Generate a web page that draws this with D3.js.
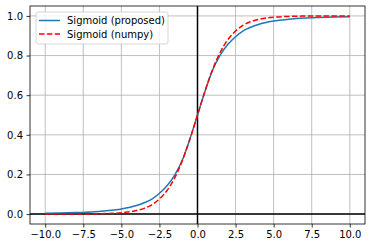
<!DOCTYPE html>
<html>
<head>
<meta charset="utf-8">
<script src="https://cdn.jsdelivr.net/npm/d3@7"></script>
<style>
  body { margin: 0; background: #fff; }
  text { font-family: "DejaVu Sans", sans-serif; }
</style>
</head>
<body>
<script>
let width = 372
let height = 248
let margin = {top: 6, right: 7, bottom: 24, left: 30}

// values
let xs = [-10, -9, -8, -7, -6, -5, -4, -3.5, -3, -2.5, -2, -1.5, -1, -0.5, 0,
          0.5, 1, 1.5, 2, 2.5, 3, 3.5, 4, 5, 6, 7, 8, 9, 10]
let proposed = [0.004, 0.006, 0.008, 0.011, 0.017, 0.026, 0.043, 0.057, 0.075, 0.105, 0.143, 0.197, 0.272, 0.379, 0.5,
                0.621, 0.728, 0.803, 0.857, 0.895, 0.925, 0.943, 0.957, 0.974, 0.983, 0.989, 0.992, 0.994, 0.996]
let numpy = [0.0000, 0.0001, 0.0003, 0.0009, 0.0025, 0.0067, 0.018, 0.029, 0.047, 0.076, 0.119, 0.182, 0.269, 0.378, 0.5,
             0.622, 0.731, 0.818, 0.881, 0.924, 0.953, 0.971, 0.982, 0.9933, 0.9975, 0.9991, 0.9997, 0.9999, 1.0]
let xTicks = [-10, -7.5, -5, -2.5, 0, 2.5, 5, 7.5, 10]
let yTicks = [0, 0.2, 0.4, 0.6, 0.8, 1.0]
let seriesNames = ["Sigmoid (proposed)", "Sigmoid (numpy)"]
let seriesColors = ["#1f77b4", "#ff0000"]

let svg = d3.select("body").append("svg")
    .attr("width", width)
    .attr("height", height)

let x = d3.scaleLinear().domain([-11, 11]).range([margin.left, width - margin.right])
let y = d3.scaleLinear().domain([-0.05, 1.05]).range([height - margin.bottom, margin.top])

let fmt = (d) => d3.format(".1f")(d).replace("-", "\u2212")

// grid
svg.append("g").selectAll("line").data(xTicks).join("line")
    .attr("x1", d => x(d)).attr("x2", d => x(d))
    .attr("y1", margin.top).attr("y2", height - margin.bottom)
    .attr("stroke", "#b0b0b0").attr("stroke-width", 0.8)
svg.append("g").selectAll("line").data(yTicks).join("line")
    .attr("x1", margin.left).attr("x2", width - margin.right)
    .attr("y1", d => y(d)).attr("y2", d => y(d))
    .attr("stroke", "#b0b0b0").attr("stroke-width", 0.8)

// zero lines
svg.append("line")
    .attr("x1", x(0)).attr("x2", x(0))
    .attr("y1", margin.top).attr("y2", height - margin.bottom)
    .attr("stroke", "#000").attr("stroke-width", 1.5)
svg.append("line")
    .attr("x1", margin.left).attr("x2", width - margin.right)
    .attr("y1", y(0)).attr("y2", y(0))
    .attr("stroke", "#000").attr("stroke-width", 1.5)

let line = (vals) => d3.line()
    .x((d, i) => x(xs[i]))
    .y(d => y(d))
    .curve(d3.curveMonotoneX)(vals)

svg.append("path")
    .attr("d", line(proposed))
    .attr("fill", "none").attr("stroke", seriesColors[0]).attr("stroke-width", 1.5)
svg.append("path")
    .attr("d", line(numpy))
    .attr("fill", "none").attr("stroke", seriesColors[1]).attr("stroke-width", 1.5)
    .attr("stroke-dasharray", "5.5,2.4")

// axes
let xAxis = svg.append("g")
    .attr("transform", "translate(0," + (height - margin.bottom) + ")")
    .call(d3.axisBottom(x).tickValues(xTicks).tickFormat(fmt).tickSize(3.5).tickPadding(3.5))
let yAxis = svg.append("g")
    .attr("transform", "translate(" + margin.left + ",0)")
    .call(d3.axisLeft(y).tickValues(yTicks).tickFormat(fmt).tickSize(3.5).tickPadding(3.5))
for (let ax of [xAxis, yAxis]) {
    ax.selectAll("text").attr("font-size", 10).attr("fill", "#000")
        .style("font-family", "DejaVu Sans")
    ax.selectAll("line").attr("stroke", "#000").attr("stroke-width", 0.8)
    ax.select(".domain").remove()
}

// frame
svg.append("rect")
    .attr("x", margin.left).attr("y", margin.top)
    .attr("width", width - margin.left - margin.right)
    .attr("height", height - margin.top - margin.bottom)
    .attr("fill", "none").attr("stroke", "#000").attr("stroke-width", 0.8)

// legend
let legend = svg.append("g").attr("transform", "translate(36,12)")
legend.append("rect")
    .attr("width", 132).attr("height", 32).attr("rx", 2)
    .attr("fill", "#fff").attr("fill-opacity", 0.8)
    .attr("stroke", "#cccccc").attr("stroke-width", 0.8)
seriesNames.forEach((name, i) => {
    let row = legend.append("g").attr("transform", "translate(0," + (8.5 + i * 13.5) + ")")
    row.append("line")
        .attr("x1", 3).attr("x2", 24)
        .attr("stroke", seriesColors[i]).attr("stroke-width", 1.5)
        .attr("stroke-dasharray", i == 1 ? "5.5,2.4" : null)
    row.append("text")
        .attr("x", 31).attr("y", 3.6)
        .attr("font-size", 10)
        .text(name)
})
</script>
</body>
</html>
